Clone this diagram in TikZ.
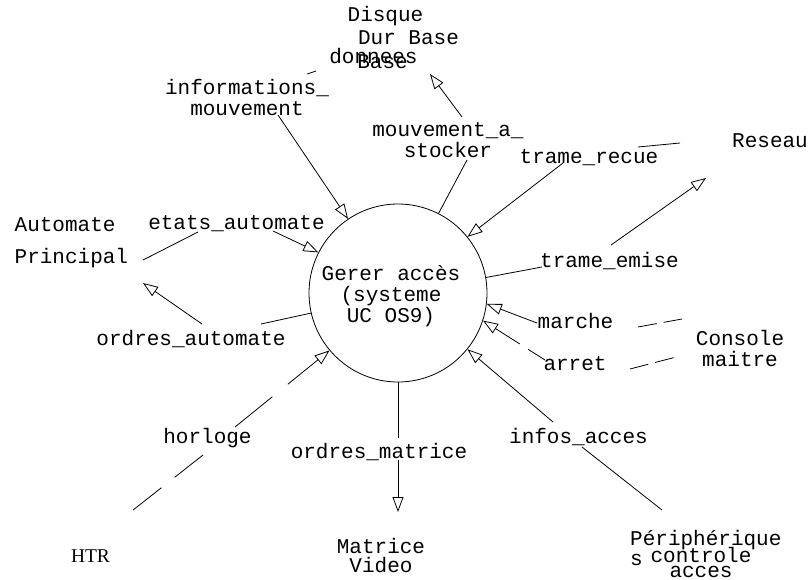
\documentclass[tikz,border=0pt]{standalone}
\usepackage{fontspec}
\setmainfont{Liberation Serif}
\setmonofont{Liberation Mono}
\usetikzlibrary{arrows.meta}
\tikzset{lbl/.style={font=\ttfamily\fontsize{21}{21}\selectfont, inner sep=0pt, anchor=base, align=center}}
\tikzset{flow/.style={line width=0.8pt, -{Triangle[open, length=15pt, width=11pt]}}}
\tikzset{link/.style={line width=0.8pt}}
\tikzset{dlink/.style={line width=0.8pt, dash pattern=on 19pt off 7pt}}

\begin{document}
\begin{tikzpicture}[x=1pt, y=-1pt]
    \useasboundingbox (0,0) rectangle (811,579);

    % process
    \node[draw, circle, line width=0.8pt, minimum size=178pt, inner sep=0pt] (P) at (398,293) {};
    \node[lbl] (Ptext) at (391,322) {Gerer accès\\(systeme\\UC OS9)};

    % external entities
    \node[lbl] (Disque) at (385.5,21) {Disque};
    \node[lbl] (Dur) at (408.5,44) {Dur Base};
    \node[lbl] (Donnees) at (373.5,63) {donnees};
    \node[lbl] (Base) at (382.5,68) {Base};
    \node[lbl] (Reseau) at (770,147) {Reseau};
    \node[lbl] (Console) at (740,366) {Console\\maitre};
    \node[lbl, align=left, anchor=base west] (Automate) at (14.5,263) {Automate\\[11pt]Principal};
    \node[lbl] (Matrice) at (381,572) {Matrice\\[-2pt]Video};
    \node[font=\fontsize{19.5}{19.5}\selectfont, inner sep=0pt, anchor=base] (HTR) at (90.5,562) {HTR};
    \node[lbl, align=left, anchor=base west] (Periph) at (630,565) {Périphérique\\[-1pt]s};
    \node[lbl] (Ctrl) at (701,577) {controle\\[-6pt]acces};

    % flow labels
    \node[lbl] (Linfo) at (247,115) {informations\_\\mouvement};
    \node[lbl] (Lstock) at (448,157) {mouvement\_a\_\\stocker};
    \node[lbl] (Lrecue) at (589,163) {trame\_recue};
    \node[lbl] (Lemise) at (609.5,267) {trame\_emise};
    \node[lbl] (Lmarche) at (575.5,328) {marche};
    \node[lbl] (Larret) at (575,370) {arret};
    \node[lbl] (Letats) at (236.5,229) {etats\_automate};
    \node[lbl] (Lordres) at (191,345) {ordres\_automate};
    \node[lbl] (Lhorloge) at (207.5,443) {horloge};
    \node[lbl] (Lmatrice) at (379,458) {ordres\_matrice};
    \node[lbl] (Linfos) at (578.5,443) {infos\_acces};

    % free ends
    \coordinate (c1) at (278,115);
    \coordinate (c2a) at (307,74);
    \coordinate (c2b) at (316,71);
    \coordinate (c3a) at (462,117);
    \coordinate (c3b) at (430,74);
    \coordinate (c4) at (467,160);
    \coordinate (c5) at (563,163);
    \coordinate (c6a) at (638,147);
    \coordinate (c6b) at (680,143);
    \coordinate (c7a) at (611,245);
    \coordinate (c7b) at (706,178);
    \coordinate (c8) at (542,267);
    \coordinate (c9) at (537,323);
    \coordinate (c10a) at (638,327);
    \coordinate (c10b) at (682,319);
    \coordinate (c11) at (545,360);
    \coordinate (c12a) at (630,369);
    \coordinate (c12b) at (680,356);
    \coordinate (c13) at (553,422);
    \coordinate (c14a) at (582,447);
    \coordinate (c14b) at (662,510);
    \coordinate (c15a) at (398,438);
    \coordinate (c15b) at (398,460);
    \coordinate (c15c) at (398,512);
    \coordinate (c16) at (235,427);
    \coordinate (c17a) at (203,455);
    \coordinate (c17b) at (128,514);
    \coordinate (c18) at (273,231);
    \coordinate (c19a) at (143,260);
    \coordinate (c19b) at (198,232);
    \coordinate (c20a) at (202,324);
    \coordinate (c20b) at (143,283);
    \coordinate (c21) at (261,324);

    \draw [flow] (c1) -- (P.124);
    \draw [link] (c2a) -- (c2b);
    \draw [flow] (c3a) -- (c3b);
    \draw [link] (P.63) -- (c4);
    \draw [flow] (c5) -- (P.39);
    \draw [link] (c6a) -- (c6b);
    \draw [flow] (c7a) -- (c7b);
    \draw [link] (P.10) -- (c8);
    \draw [flow] (c9) -- (P.-7);
    \draw [dlink] (c10a) -- (c10b);
    \draw [flow, dash pattern=on 20pt off 10pt on 60pt] (c11) -- (P.-18);
    \draw [dlink] (c12a) -- (c12b);
    \draw [flow] (c13) -- (P.-39);
    \draw [link] (c14a) -- (c14b);
    \draw [link] (P.-90) -- (c15a);
    \draw [flow] (c15b) -- (c15c);
    \draw [flow, dash pattern=on 48pt off 20pt on 80pt] (c16) -- (P.-140);
    \draw [link, dash pattern=on 36pt off 17pt] (c17a) -- (c17b);
    \draw [flow] (c18) -- (P.153);
    \draw [link] (c19a) -- (c19b);
    \draw [flow] (c20a) -- (c20b);
    \draw [link] (c21) -- (P.-167);
\end{tikzpicture}
\end{document}
